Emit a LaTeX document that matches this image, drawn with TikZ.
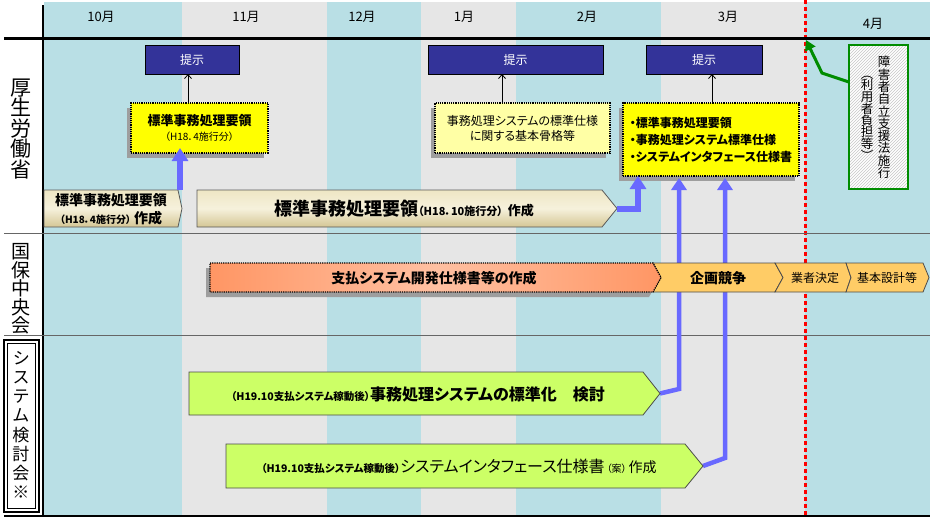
\documentclass[tikz,border=0pt]{standalone}
\usepackage{fontspec}
\setmainfont{Noto Sans CJK JP}[RawFeature=+palt]
\usetikzlibrary{arrows.meta,patterns,shadows}
\definecolor{cy}{RGB}{185,223,229}
\definecolor{gr}{RGB}{230,230,230}
\definecolor{navy}{RGB}{51,51,153}
\definecolor{yel}{RGB}{255,255,0}
\definecolor{lyel}{RGB}{255,255,165}
\definecolor{tanT}{RGB}{238,230,196}
\definecolor{tanM}{RGB}{246,241,220}
\definecolor{tanB}{RGB}{212,198,148}
\definecolor{orD}{RGB}{255,150,100}
\definecolor{orL}{RGB}{255,192,162}
\definecolor{chev}{RGB}{255,204,102}
\definecolor{lime}{RGB}{204,255,102}
\definecolor{bluA}{RGB}{105,105,255}
\definecolor{grn}{RGB}{0,140,0}
\begin{document}
\begin{tikzpicture}[x=1pt,y=-1pt,
  every node/.style={inner sep=0pt, outer sep=0pt},
  month/.style={font=\fontsize{13}{15}\selectfont},
  teiji/.style={draw=black, line width=0.8pt, fill=navy, text=white, font=\fontsize{12}{14}\selectfont, minimum height=29pt},
  dshadow/.style={drop shadow={shadow xshift=-4pt, shadow yshift=-5pt, fill=black!38, opacity=1}},
  ybox/.style={draw=black, densely dotted, line width=1.2pt, dshadow, align=center},
  tanshape/.style={draw=black!65, line width=0.8pt, top color=tanT, bottom color=tanB, middle color=tanM},
  chevshape/.style={draw=black!70, line width=0.8pt, fill=chev},
  limeshape/.style={draw=black!70, line width=0.8pt, fill=lime},
  bluefat/.style={draw=bluA, line width=6pt, line join=miter, -{Triangle[length=13pt,width=16pt]}},
  bluethin/.style={draw=bluA, line width=4.5pt, line join=miter, -{Triangle[length=12pt,width=15pt]}},
  tarrow/.style={draw=black, line width=0.8pt, -{Straight Barb[length=4pt,width=7pt]}},
  vlab/.style={align=center}
]
\useasboundingbox (0,0) rectangle (930,523);
\fill[white] (0,0) rectangle (930,523);
% stripes
\fill[cy] (44,2) rectangle (182,516);
\fill[gr] (182,2) rectangle (327,516);
\fill[cy] (327,2) rectangle (421,516);
\fill[gr] (421,2) rectangle (516,516);
\fill[cy] (516,2) rectangle (661,516);
\fill[gr] (661,2) rectangle (805,516);
\fill[cy] (805,2) rectangle (930,516);
% red dotted line
\draw[red, line width=3pt, dash pattern=on 4pt off 3pt] (805,0) -- (805,516);
% frame lines
\draw[line width=3pt] (4,38) -- (930,38);
\draw[line width=1.5pt] (43,5) -- (43,516);
\draw[black!60] (4,233) -- (930,233);
\draw[black!60] (4,335) -- (930,335);
\draw[line width=2pt] (4,516) -- (930,516);
% months
\node[month] (m10) at (101,17) {10月};
\node[month] (m11) at (246,17) {11月};
\node[month] (m12) at (362,17) {12月};
\node[month] (m1) at (464,17) {1月};
\node[month] (m2) at (587,17) {2月};
\node[month] (m3) at (728,17) {3月};
\node[month] (m4) at (873,24) {4月};
% left labels
\node[vlab, font=\fontsize{21}{20.5}\selectfont] (lab1) at (21,129) {厚\\生\\労\\働\\省};
\node[vlab, font=\fontsize{19}{18.5}\selectfont] (lab2) at (21,289) {国\\保\\中\\央\\会};
\draw[line width=1.5pt] (4,340) rectangle (39,512);
\draw[line width=0.6pt] (7.5,343.5) rectangle (35.5,508.5);
\node[vlab, font=\fontsize{17}{19.1}\selectfont] (lab3) at (21,425) {シ\\ス\\テ\\ム\\検\\討\\会\\※};
% teiji boxes
\node[teiji, minimum width=94pt] (t1) at (192,59.5) {提示};
\node[teiji, minimum width=175pt] (t2) at (515.5,59.5) {提示};
\node[teiji, minimum width=116pt] (t3) at (704,59.5) {提示};
% yellow boxes
\node[ybox, fill=yel, minimum width=137pt, minimum height=50pt, font=\fontsize{13}{15}\selectfont] (y1) at (199.5,128)
  {{\bfseries 標準事務処理要領}\\{\fontsize{10}{15}\selectfont （H18．4施行分）}};
\node[ybox, fill=lyel, minimum width=175pt, minimum height=50pt, font=\fontsize{12}{15}\selectfont] (y2) at (522.5,128)
  {事務処理システムの標準仕様\\に関する基本骨格等};
\node[ybox, fill=yel, minimum width=176pt, minimum height=73pt, align=left, font=\bfseries\fontsize{12}{17}\selectfont] (y3) at (711,139.5)
  {・標準事務処理要領\\・事務処理システム標準仕様\\・システムインタフェース仕様書};
% long blue arrows from row 3 (behind row 2 shapes)
\coordinate (s3a) at (660,393.5);
\draw[bluethin, shorten >=2pt] (s3a) -- ++(19,-4.5) coordinate (k3) -- (k3 |- y3.south);
\coordinate (s3b) at (703,466);
\draw[bluethin, shorten >=2pt] (s3b) -- ++(22,-8) coordinate (k4) -- (k4 |- y3.south);
% row 1 tan shapes
\path[tanshape] (44,190) -- (178,190) -- (182,208.5) -- (178,227) -- (44,227) -- cycle;
\node[align=center, font=\bfseries\fontsize{14}{18}\selectfont] (s1t) at (111,209)
  {標準事務処理要領\\{\fontsize{10}{18}\selectfont （H18．4施行分）}\hspace{3pt}作成};
\path[tanshape] (197,190) -- (602,190) -- (617,208.5) -- (602,227) -- (197,227) -- cycle;
\node[font=\bfseries\fontsize{18}{20}\selectfont] (s2t) at (404,209)
  {標準事務処理要領{\fontsize{11}{20}\selectfont （H18．10施行分）}\hspace{5pt}{\fontsize{13}{20}\selectfont 作成}};
% row 2
\path[chevshape] (653,263) -- (775,263) -- (783,277.5) -- (775,292) -- (653,292) -- (661,277.5) -- cycle;
\path[chevshape] (775,263) -- (846,263) -- (851,277.5) -- (846,292) -- (775,292) -- (783,277.5) -- cycle;
\path[chevshape] (846,263) -- (923,263) -- (929,277.5) -- (923,292) -- (846,292) -- (851,277.5) -- cycle;
\fill[black!38] (206,268) -- (649,268) -- (657,282.5) -- (649,297) -- (206,297) -- cycle;
\path[draw=black, densely dotted, line width=1.2pt, left color=orD, right color=orD, middle color=orL]
  (210,263) -- (653,263) -- (661,277.5) -- (653,292) -- (210,292) -- cycle;
\node[font=\bfseries\fontsize{14}{16}\selectfont] (o1t) at (434,278) {支払システム開発仕様書等の作成};
\node[font=\bfseries\fontsize{14}{16}\selectfont] (o2t) at (718,278) {企画競争};
\node[font=\fontsize{12}{14}\selectfont] (o3t) at (815,278) {業者決定};
\node[font=\fontsize{12}{14}\selectfont] (o4t) at (887,278) {基本設計等};
% row 3
\path[limeshape] (189,372) -- (643,372) -- (660,393.5) -- (643,415) -- (189,415) -- cycle;
\node[font=\bfseries\fontsize{16}{18}\selectfont] (g1t) at (418,394)
  {{\fontsize{10.5}{18}\selectfont （H19.10支払システム稼動後）}事務処理システムの標準化\quad 検討};
\path[limeshape] (226,444) -- (685,444) -- (703,466) -- (685,488) -- (226,488) -- cycle;
\node[font=\fontsize{16}{18}\selectfont] (g2t) at (459,466)
  {{\bfseries\fontsize{10.5}{18}\selectfont （H19.10支払システム稼動後）}システムインタフェース仕様書\hspace{2pt}{\fontsize{10}{18}\selectfont （案）}\hspace{2pt}{\fontsize{14}{18}\selectfont 作成}};
% green box
\node[draw=grn, line width=2pt, preaction={fill=white}, pattern=north east lines, pattern color=black!22,
  minimum width=59pt, minimum height=144pt] (gbox) at (878.5,117) {};
\node[vlab, font=\fontsize{12.5}{12.3}\selectfont] (gt1) at (884,117.5) {障\\害\\者\\自\\立\\支\\援\\法\\施\\行};
\node[vlab, font=\fontsize{12.5}{11.7}\selectfont] (gt2) at (867,118) {︵\\利\\用\\者\\負\\担\\等\\︶};
\coordinate (rl) at (806,40);
\draw[grn, line width=3pt, -{Triangle[length=10pt,width=11pt]}] ([yshift=35pt]gbox.west) -- (822,73) -- (rl);
% thin arrows to teiji
\coordinate (ax1) at (188,0);
\coordinate (ax2) at (502,0);
\coordinate (ax3) at (712,0);
\draw[tarrow] (y1.north -| ax1) -- (t1.south -| ax1);
\draw[tarrow] (y2.north -| ax2) -- (t2.south -| ax2);
\draw[tarrow] (y3.north -| ax3) -- (t3.south -| ax3);
% short blue arrows
\coordinate (s1top) at (180,190);
\draw[bluefat, shorten >=-5pt] (s1top) -- (s1top |- y1.south);
\coordinate (s2tip) at (617,208.5);
\draw[bluefat] (s2tip) -- ++(21,0) coordinate (k2) -- (k2 |- y3.south);
\end{tikzpicture}
\end{document}
